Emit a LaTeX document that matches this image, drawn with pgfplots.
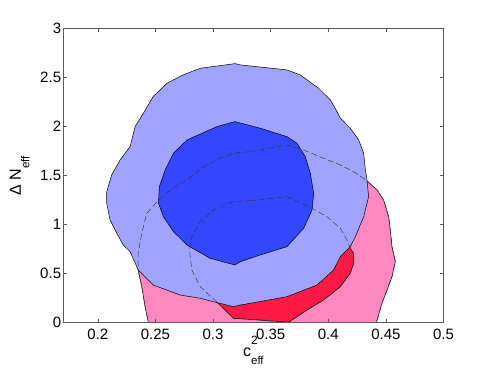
\documentclass[border=0pt]{standalone}
\usepackage{fontspec}
\setmainfont{Liberation Sans}
\usepackage{pgfplots}
\usepackage{pgfplotstable}
\pgfplotsset{compat=1.18}

\definecolor{pinklo}{RGB}{255,136,190}
\definecolor{pinkhi}{RGB}{255,26,70}
\definecolor{bluelo}{RGB}{160,164,255}
\definecolor{bluehi}{RGB}{51,71,255}

\newcommand{\supr}[1]{\rlap{\raisebox{11pt}{\fontsize{12}{12}\selectfont #1}}}
\newcommand{\subr}[1]{\raisebox{-8.5pt}{\fontsize{11.5}{12}\selectfont #1}}

% outer contour, pink set
\pgfplotstableread{
x y
0.3323 1.743
0.3641 1.811
0.3786 1.760
0.3959 1.676
0.4105 1.607
0.4220 1.539
0.4336 1.445
0.4423 1.353
0.4480 1.251
0.4524 1.080
0.4538 0.945
0.4553 0.775
0.4582 0.622
0.4553 0.469
0.4510 0.333
0.4466 0.198
0.4417 0.000
0.4400 -0.080
0.2450 -0.080
0.2439 0.000
0.2410 0.163
0.2381 0.367
0.2350 0.537
0.2350 0.707
0.2381 0.911
0.2410 1.047
0.2425 1.115
0.2526 1.251
0.2627 1.353
0.2773 1.455
0.2917 1.590
0.3062 1.676
0.3207 1.733
0.3323 1.743
}\pinkout

% inner contour, pink set
\pgfplotstableread{
x y
0.3323 1.244
0.3641 1.284
0.3859 1.166
0.3989 1.080
0.4105 0.962
0.4162 0.843
0.4191 0.758
0.4220 0.707
0.4220 0.605
0.4191 0.504
0.4105 0.367
0.3959 0.231
0.3815 0.129
0.3655 0.005
0.3323 0.034
0.3177 0.045
0.3033 0.210
0.2888 0.367
0.2816 0.537
0.2795 0.741
0.2816 0.877
0.2888 1.030
0.3003 1.149
0.3177 1.234
0.3323 1.244
}\pinkin

% outer contour, blue set
\pgfplotstableread{
x y
0.3190 2.640
0.3236 2.627
0.3641 2.576
0.3757 2.525
0.3916 2.389
0.4018 2.270
0.4076 2.151
0.4105 2.084
0.4191 1.982
0.4264 1.862
0.4307 1.727
0.4322 1.557
0.4336 1.455
0.4350 1.284
0.4307 1.080
0.4235 0.877
0.4191 0.775
0.4105 0.673
0.4046 0.537
0.3902 0.384
0.3641 0.265
0.3236 0.180
0.3177 0.163
0.3003 0.214
0.2888 0.249
0.2714 0.282
0.2480 0.384
0.2350 0.537
0.2280 0.724
0.2220 0.792
0.2164 0.911
0.2106 1.047
0.2077 1.217
0.2077 1.335
0.2120 1.506
0.2193 1.658
0.2280 1.794
0.2323 1.998
0.2395 2.134
0.2480 2.304
0.2600 2.440
0.2740 2.525
0.2889 2.593
0.3190 2.640
}\blueout

% inner contour, blue set
\pgfplotstableread{
x y
0.3190 2.049
0.3409 1.982
0.3641 1.896
0.3728 1.829
0.3800 1.692
0.3844 1.523
0.3873 1.319
0.3859 1.149
0.3786 0.962
0.3641 0.775
0.3409 0.690
0.3236 0.622
0.3190 0.588
0.2975 0.656
0.2773 0.792
0.2656 0.928
0.2569 1.080
0.2526 1.217
0.2534 1.386
0.2584 1.557
0.2656 1.727
0.2773 1.862
0.3033 1.998
0.3190 2.049
}\bluein

\begin{document}
\begin{tikzpicture}
\begin{axis}[
    name=ax,
    width=380.2pt, height=294.4pt,
    scale only axis,
    xmin=0.17, xmax=0.5,
    ymin=0, ymax=3,
    xtick={0.2,0.25,...,0.5},
    ytick={0,0.5,...,3},
    xticklabels={0.2,0.25,0.3,0.35,0.4,0.45,0.5},
    yticklabels={0,0.5,1,1.5,2,2.5,3},
    tick align=inside,
    major tick length=4pt,
    axis line style={gray!70!black, line width=0.6pt},
    every tick/.style={gray!70!black, line width=0.5pt},
    tick label style={font=\fontsize{15}{17}\selectfont},
    xticklabel style={yshift=-3pt},
    yticklabel style={inner sep=2pt},
    label style={font=\fontsize{16}{18}\selectfont},
    xlabel={c\supr{2}\subr{eff}},
    ylabel={Δ N\subr{eff}},
    xlabel style={at={(axis description cs:0.5,-0.1131)}, anchor=base},
    ylabel style={at={(axis description cs:-0.1113,0.5)}, anchor=base, rotate=0},
    axis on top,
]
\addplot[fill=pinklo, draw=black, line width=0.5pt] table {\pinkout};
\addplot[fill=pinkhi, draw=black, line width=0.5pt] table {\pinkin};
\addplot[fill=bluelo, draw=black, line width=0.5pt] table {\blueout};
\addplot[fill=bluehi, draw=black, line width=0.5pt] table {\bluein};
\addplot[draw=black!80, line width=0.45pt, dash pattern=on 6pt off 3pt] table {\pinkout};
\addplot[draw=black!80, line width=0.45pt, dash pattern=on 6pt off 3pt] table {\pinkin};
\end{axis}
\path ([xshift=-63.3pt,yshift=-46.3pt]ax.south west) rectangle ([xshift=47.5pt,yshift=28.3pt]ax.north east);
\end{tikzpicture}
\end{document}
